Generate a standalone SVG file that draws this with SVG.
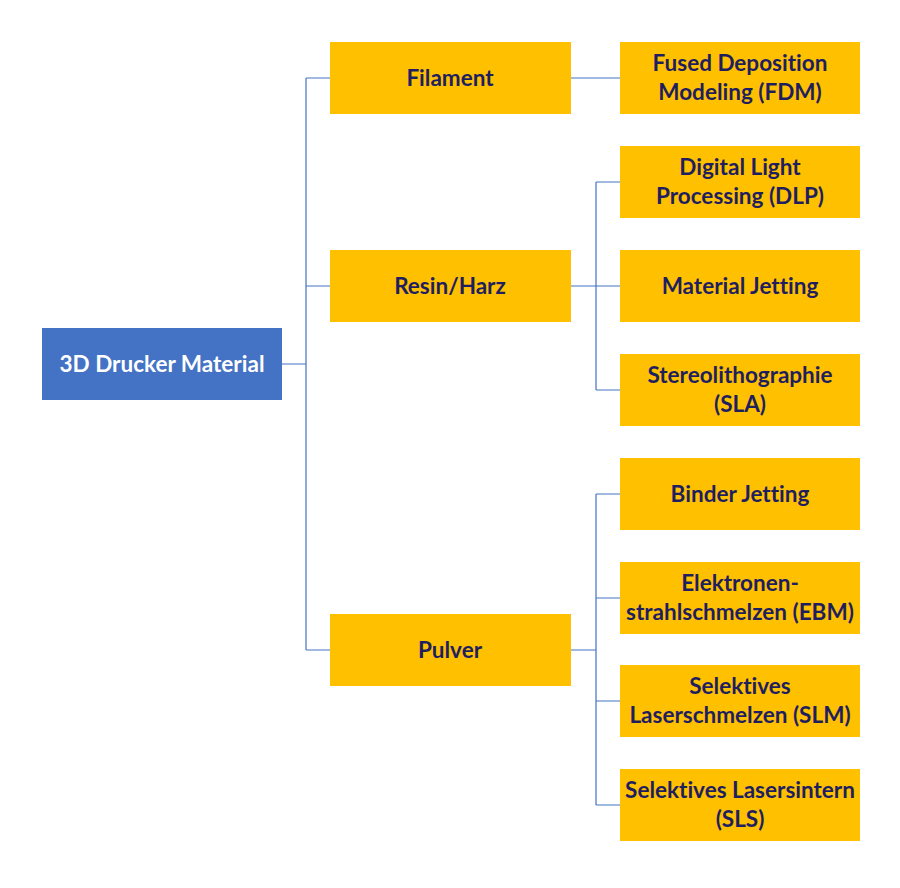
<svg xmlns="http://www.w3.org/2000/svg" width="900" height="888" viewBox="0 0 900 888">
<style>
.n{fill:#FFC000}
.r{fill:#4472C4}
.t,.tw{font-family:Lato,"Open Sans","Liberation Sans",sans-serif;font-weight:bold;font-size:22.5px;text-anchor:middle;font-variant-ligatures:none}
.t{fill:#1F1F5F}
.tw{fill:#FFFFFF}
.c{stroke:#4472C4;stroke-width:1.2;fill:none}
</style>
<rect width="900" height="888" fill="#FFFFFF"/>
<g id="connectors">
<path class="c" d="M282 364H306M306 78V650M306 78H330M306 286H330M306 650H330"/>
<path class="c" d="M571 78H620"/>
<path class="c" d="M571 286H620M596 182V390M596 182H620M596 390H620"/>
<path class="c" d="M571 650H596M596 494V805M596 494H620M596 598H620M596 701H620M596 805H620"/>
</g>
<g id="root"><rect class="r" x="42" y="328" width="240" height="72"/><text class="tw" x="162" y="372">3D Drucker Material</text></g>
<g id="filament"><rect class="n" x="330" y="42" width="241" height="72"/><text class="t" x="450" y="86">Filament</text></g>
<g id="resin"><rect class="n" x="330" y="250" width="241" height="72"/><text class="t" x="450" y="294">Resin/Harz</text></g>
<g id="pulver"><rect class="n" x="330" y="614" width="241" height="72"/><text class="t" x="450" y="658">Pulver</text></g>
<g id="fdm"><rect class="n" x="620" y="42" width="240" height="72"/><text class="t" x="740" y="71">Fused Deposition</text><text class="t" x="740" y="100">Modeling (FDM)</text></g>
<g id="dlp"><rect class="n" x="620" y="146" width="240" height="72"/><text class="t" x="740" y="175">Digital Light</text><text class="t" x="740" y="204">Processing (DLP)</text></g>
<g id="mj"><rect class="n" x="620" y="250" width="240" height="72"/><text class="t" x="740" y="294">Material Jetting</text></g>
<g id="sla"><rect class="n" x="620" y="354" width="240" height="72"/><text class="t" x="740" y="383">Stereolithographie</text><text class="t" x="740" y="412">(SLA)</text></g>
<g id="bj"><rect class="n" x="620" y="458" width="240" height="72"/><text class="t" x="740" y="502">Binder Jetting</text></g>
<g id="ebm"><rect class="n" x="620" y="562" width="240" height="72"/><text class="t" x="740" y="591">Elektronen-</text><text class="t" x="740" y="620">strahlschmelzen (EBM)</text></g>
<g id="slm"><rect class="n" x="620" y="665" width="240" height="72"/><text class="t" x="740" y="694">Selektives</text><text class="t" x="740" y="723">Laserschmelzen (SLM)</text></g>
<g id="sls"><rect class="n" x="620" y="769" width="240" height="72"/><text class="t" x="740" y="798">Selektives Lasersintern</text><text class="t" x="740" y="827">(SLS)</text></g>
</svg>
